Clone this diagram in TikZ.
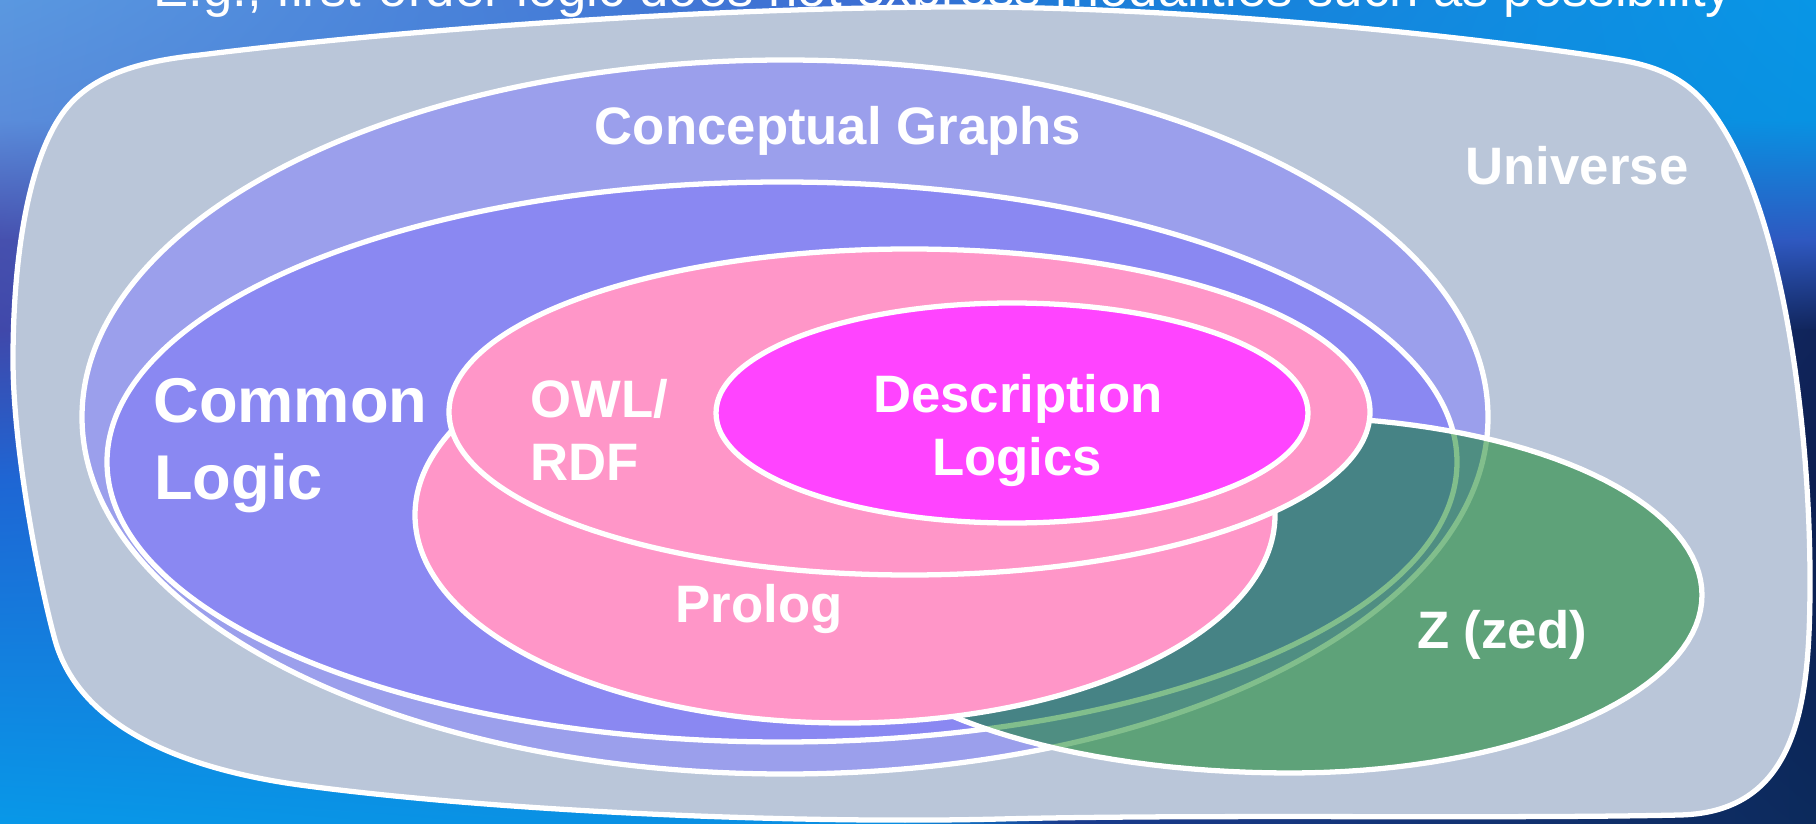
\documentclass[tikz,border=0pt]{standalone}
\usepackage{fontspec}
\setmainfont{Liberation Sans}
\usetikzlibrary{shadings}
\definecolor{univ}{HTML}{BAC6D9}
\definecolor{cgc}{HTML}{9B9FEC}
\definecolor{clc}{HTML}{8A88F2}
\definecolor{pinkc}{HTML}{FF96C8}
\definecolor{dlc}{HTML}{FF44FF}
\definecolor{zc}{RGB}{4,127,26}
\definecolor{b00}{HTML}{5A98E0}\definecolor{b01}{HTML}{5A8CDA}\definecolor{b02}{HTML}{4650AE}
\definecolor{b03}{HTML}{4048AA}\definecolor{b04}{HTML}{1E66D4}\definecolor{b05}{HTML}{0898E8}
\definecolor{b10}{HTML}{3A6CD2}\definecolor{b11}{HTML}{2E78D8}\definecolor{b12}{HTML}{2A6ACC}
\definecolor{b13}{HTML}{2460C8}\definecolor{b14}{HTML}{1A70D4}\definecolor{b15}{HTML}{0A8EE2}
\definecolor{b20}{HTML}{1E7CD8}\definecolor{b21}{HTML}{1484DC}\definecolor{b22}{HTML}{2060C8}
\definecolor{b23}{HTML}{1E50B0}\definecolor{b24}{HTML}{1A4AA0}\definecolor{b25}{HTML}{1A3C8E}
\definecolor{b30}{HTML}{0896E6}\definecolor{b31}{HTML}{0892E2}\definecolor{b32}{HTML}{2F58C0}
\definecolor{b33}{HTML}{10245A}\definecolor{b34}{HTML}{0C1E50}\definecolor{b35}{HTML}{0C2A5C}
\newcommand\bgcell[8]{\shade[upper left=#5,upper right=#6,lower left=#7,lower right=#8] (#1,#2) rectangle (#3,#4);}
\tikzset{
  region/.style={draw=white, line width=3pt},
  lbl/.style={text=white, inner sep=0pt, anchor=base, font=\bfseries\fontsize{30}{36}\selectfont},
  biglbl/.style={text=white, inner sep=0pt, anchor=base west, font=\bfseries\fontsize{36}{43}\selectfont},
}
\begin{document}
\begin{tikzpicture}[x=0.02cm,y=-0.02cm]
\useasboundingbox (0,0) rectangle (1816,824);
\clip (0,0) rectangle (1816,824);
% background
\bgcell{0}{0}{901}{121}{b00}{b10}{b01}{b11}
\bgcell{900}{0}{1061}{121}{b10}{b20}{b11}{b21}
\bgcell{1060}{0}{1816}{121}{b20}{b30}{b21}{b31}
\bgcell{0}{120}{901}{241}{b01}{b11}{b02}{b12}
\bgcell{900}{120}{1061}{241}{b11}{b21}{b12}{b22}
\bgcell{1060}{120}{1816}{241}{b21}{b31}{b22}{b32}
\bgcell{0}{240}{901}{331}{b02}{b12}{b03}{b13}
\bgcell{900}{240}{1061}{331}{b12}{b22}{b13}{b23}
\bgcell{1060}{240}{1816}{331}{b22}{b32}{b23}{b33}
\bgcell{0}{330}{901}{481}{b03}{b13}{b04}{b14}
\bgcell{900}{330}{1061}{481}{b13}{b23}{b14}{b24}
\bgcell{1060}{330}{1816}{481}{b23}{b33}{b24}{b34}
\bgcell{0}{480}{901}{824}{b04}{b14}{b05}{b15}
\bgcell{900}{480}{1061}{824}{b14}{b24}{b15}{b25}
\bgcell{1060}{480}{1816}{824}{b24}{b34}{b25}{b35}
% title line, cut by the top edge
\node[text=white, inner sep=0pt, anchor=base, font=\fontsize{30}{36}\selectfont] (note) at (943,7)
  {E.g., first-order logic does not express modalities such as possibility};
% universe
\draw[region, fill=univ] (13,360)
  .. controls (13,270) and (25,170) .. (60,117)
  .. controls (85,79) and (130,62) .. (200,55)
  .. controls (400,30) and (700,8) .. (950,7)
  .. controls (1200,6) and (1500,40) .. (1620,60)
  .. controls (1680,70) and (1705,95) .. (1730,140)
  .. controls (1790,250) and (1810,450) .. (1810,580)
  .. controls (1810,700) and (1800,812) .. (1680,815)
  .. controls (1500,819) and (1200,814) .. (1000,819)
  .. controls (800,824) and (500,812) .. (300,785)
  .. controls (190,770) and (80,730) .. (55,640)
  .. controls (40,586) and (13,450) .. (13,360) -- cycle;
% conceptual graphs and common logic
\draw[region, fill=cgc] (785,417) ellipse (703 and 357);
\draw[region, fill=clc] (782,462) ellipse (675 and 280);
% Z
\draw[region, fill=zc, fill opacity=0.5]
  plot[domain=-90:90, samples=73, variable=\t] ({1290+412*cos(\t)},{595+178*sin(\t)})
  -- plot[domain=90:270, samples=73, variable=\t] ({1290+461*cos(\t)},{595+178*sin(\t)}) -- cycle;
% prolog, owl/rdf, description logics
\draw[region, fill=pinkc] (845,515) ellipse (430 and 208);
\draw[region, fill=pinkc] (909.5,412) ellipse (460.5 and 163);
\draw[region, fill=dlc] (1012,413) ellipse (296 and 110);
% labels
\node[lbl] (cg) at (838,145) {Conceptual Graphs};
\node[lbl] (uni) at (1577,185) {Universe};
\node[biglbl] (cl1) at (153,422) {Common};
\node[biglbl] (cl2) at (154,499) {Logic};
\node[lbl, anchor=base west] (owl1) at (530,417) {OWL/};
\node[lbl, anchor=base west] (owl2) at (530,480) {RDF};
\node[lbl] (dl1) at (1018,412) {Description};
\node[lbl] (dl2) at (1017,475) {Logics};
\node[lbl] (pro) at (759,622) {Prolog};
\node[lbl] (zed) at (1502,648) {Z (zed)};
\end{tikzpicture}
\end{document}
